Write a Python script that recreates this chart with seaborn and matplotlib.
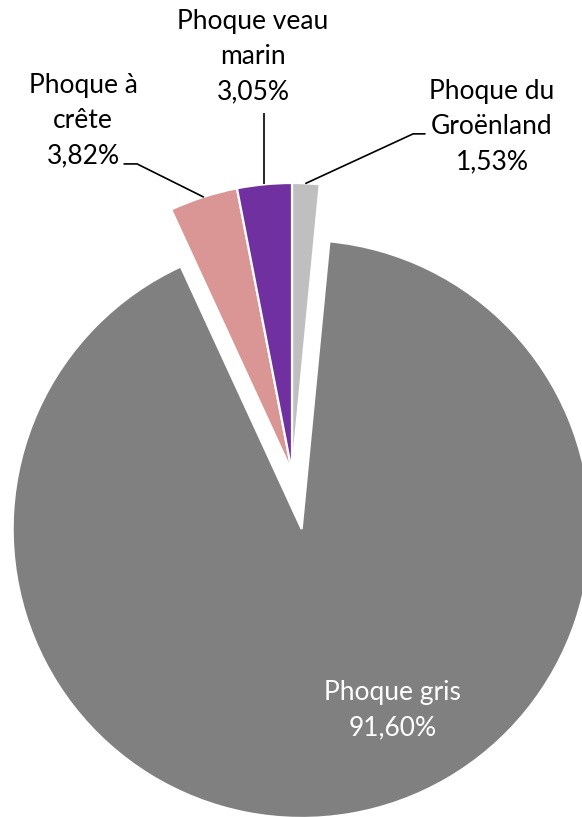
import numpy as np
import matplotlib
matplotlib.use("Agg")
import matplotlib.pyplot as plt
import seaborn as sns

# Seal species shares (percent), clockwise from 12 o'clock
species = ["Phoque du\nGroënland", "Phoque gris", "Phoque à\ncrête", "Phoque veau\nmarin"]
shares = [1.53, 91.60, 3.82, 3.05]
colors = ["#BFBFBF", "#808080", "#D99694", "#7030A0"]
explode = [0, 0.2, 0, 0]

sns.set_theme(style="white")
plt.rcParams["font.family"] = ["Lato", "DejaVu Sans"]

fig = plt.figure(figsize=(5.82, 8.17), dpi=100)
ax = fig.add_axes([0, 0, 1, 1])

wedges, _ = ax.pie(
    shares, colors=colors, explode=explode, startangle=90, counterclock=False,
    radius=1, wedgeprops=dict(edgecolor="white", linewidth=1.6),
)

def fmt(v):
    return f"{v:.2f}".replace(".", ",") + "%"

def anchor(w, r=1.0):
    a = np.deg2rad((w.theta1 + w.theta2) / 2)
    cx, cy = w.center
    return cx + r * np.cos(a), cy + r * np.sin(a)

fs = 19
ls = 1.5
# Outside labels with leader lines
outer = {
    0: ((0.692, 1.195), "left"),
    2: ((-0.723, 1.215), "right"),
    3: ((-0.135, 1.437), None),
}
for i, ((tx, ty), side) in outer.items():
    ax.text(tx, ty, f"{species[i]}\n{fmt(shares[i])}", ha="center", va="center",
            fontsize=fs, color="black", linespacing=ls)
    x0, y0 = anchor(wedges[i])
    if side is None:
        ax.plot([x0, x0], [y0, 1.242], color="black", lw=1.2, solid_capstyle="butt")
    elif side == "left":
        ax.plot([x0, 0.419, 0.460], [y0, 1.170, 1.170], color="black", lw=1.2)
    else:
        ax.plot([x0, -0.536, -0.581], [y0, 1.066, 1.066], color="black", lw=1.2)

# Label inside the large slice
ax.text(0.349, -0.824, f"{species[1]}\n{fmt(shares[1])}", ha="center", va="center",
        fontsize=fs, color="white", linespacing=ls)

ax.set_aspect("auto")
ax.set_xlim(-292 / 289, 290 / 289)
ax.set_ylim(-345 / 289, 472 / 289)
ax.axis("off")

fig.savefig("out.png", dpi=100, facecolor="white")
